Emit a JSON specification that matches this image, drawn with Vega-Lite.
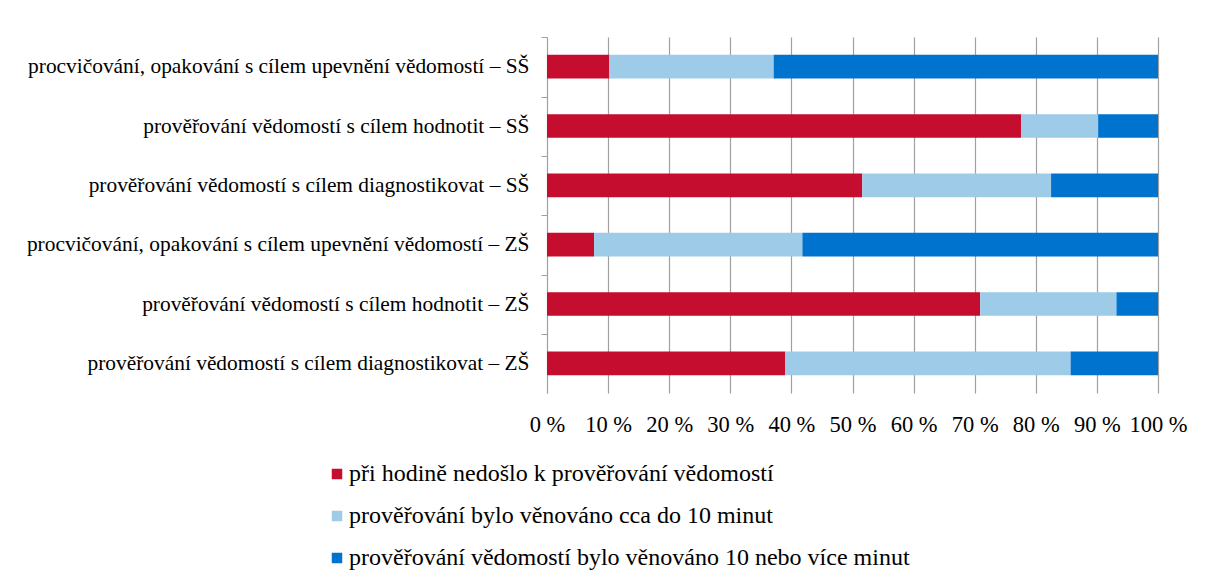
{
  "$schema": "https://vega.github.io/schema/vega-lite/v6.json",
  "autosize": "none",
  "width": 611,
  "height": 356,
  "padding": {"left": 547, "top": 37, "right": 50, "bottom": 189},
  "background": "white",
  "config": {
    "view": {"stroke": null},
    "font": "Liberation Serif, Times New Roman, serif"
  },
  "data": {
    "values": [
      {"cat": "procvičování, opakování s cílem upevnění vědomostí – SŠ", "series": "při hodině nedošlo k prověřování vědomostí", "ord": 1, "value": 10.2},
      {"cat": "procvičování, opakování s cílem upevnění vědomostí – SŠ", "series": "prověřování bylo věnováno cca do 10 minut", "ord": 2, "value": 26.9},
      {"cat": "procvičování, opakování s cílem upevnění vědomostí – SŠ", "series": "prověřování vědomostí bylo věnováno 10 nebo více minut", "ord": 3, "value": 62.9},
      {"cat": "prověřování vědomostí s cílem hodnotit – SŠ", "series": "při hodině nedošlo k prověřování vědomostí", "ord": 1, "value": 77.6},
      {"cat": "prověřování vědomostí s cílem hodnotit – SŠ", "series": "prověřování bylo věnováno cca do 10 minut", "ord": 2, "value": 12.6},
      {"cat": "prověřování vědomostí s cílem hodnotit – SŠ", "series": "prověřování vědomostí bylo věnováno 10 nebo více minut", "ord": 3, "value": 9.8},
      {"cat": "prověřování vědomostí s cílem diagnostikovat – SŠ", "series": "při hodině nedošlo k prověřování vědomostí", "ord": 1, "value": 51.6},
      {"cat": "prověřování vědomostí s cílem diagnostikovat – SŠ", "series": "prověřování bylo věnováno cca do 10 minut", "ord": 2, "value": 30.9},
      {"cat": "prověřování vědomostí s cílem diagnostikovat – SŠ", "series": "prověřování vědomostí bylo věnováno 10 nebo více minut", "ord": 3, "value": 17.5},
      {"cat": "procvičování, opakování s cílem upevnění vědomostí – ZŠ", "series": "při hodině nedošlo k prověřování vědomostí", "ord": 1, "value": 7.7},
      {"cat": "procvičování, opakování s cílem upevnění vědomostí – ZŠ", "series": "prověřování bylo věnováno cca do 10 minut", "ord": 2, "value": 34.1},
      {"cat": "procvičování, opakování s cílem upevnění vědomostí – ZŠ", "series": "prověřování vědomostí bylo věnováno 10 nebo více minut", "ord": 3, "value": 58.2},
      {"cat": "prověřování vědomostí s cílem hodnotit – ZŠ", "series": "při hodině nedošlo k prověřování vědomostí", "ord": 1, "value": 70.9},
      {"cat": "prověřování vědomostí s cílem hodnotit – ZŠ", "series": "prověřování bylo věnováno cca do 10 minut", "ord": 2, "value": 22.3},
      {"cat": "prověřování vědomostí s cílem hodnotit – ZŠ", "series": "prověřování vědomostí bylo věnováno 10 nebo více minut", "ord": 3, "value": 6.8},
      {"cat": "prověřování vědomostí s cílem diagnostikovat – ZŠ", "series": "při hodině nedošlo k prověřování vědomostí", "ord": 1, "value": 39.0},
      {"cat": "prověřování vědomostí s cílem diagnostikovat – ZŠ", "series": "prověřování bylo věnováno cca do 10 minut", "ord": 2, "value": 46.7},
      {"cat": "prověřování vědomostí s cílem diagnostikovat – ZŠ", "series": "prověřování vědomostí bylo věnováno 10 nebo více minut", "ord": 3, "value": 14.3}
    ]
  },
  "mark": {"type": "bar"},
  "encoding": {
    "y": {
      "field": "cat",
      "type": "nominal",
      "sort": null,
      "scale": {"paddingInner": 0.6, "paddingOuter": 0.3},
      "axis": {
        "title": null,
        "domainColor": "#a0a0a0",
        "tickColor": "#a0a0a0",
        "tickSize": 6,
        "tickOffset": -29.5,
        "labelOffset": 29.5,
        "labelPadding": 12,
        "labelFontSize": 21.4,
        "labelColor": "#000000",
        "labelLimit": 600,
        "labelFont": "Liberation Serif"
      }
    },
    "x": {
      "field": "value",
      "type": "quantitative",
      "stack": "normalize",
      "scale": {"domain": [0, 1], "nice": false},
      "axis": {
        "title": null,
        "format": ".0%",
        "labelExpr": "replace(datum.label, '%', ' %')",
        "values": [0, 0.1, 0.2, 0.3, 0.4, 0.5, 0.6, 0.7, 0.8, 0.9, 1],
        "labelOverlap": false,
        "labelBound": false,
        "labelFlush": false,
        "grid": true,
        "gridColor": "#a0a0a0",
        "gridWidth": 1.2,
        "domain": false,
        "ticks": false,
        "labelPadding": 20,
        "labelFontSize": 22.5,
        "labelColor": "#000000",
        "labelFont": "Liberation Serif"
      }
    },
    "color": {
      "field": "series",
      "type": "nominal",
      "sort": ["při hodině nedošlo k prověřování vědomostí", "prověřování bylo věnováno cca do 10 minut", "prověřování vědomostí bylo věnováno 10 nebo více minut"],
      "scale": {"range": ["#C50D30", "#9DCBE8", "#0073CF"]},
      "legend": {
        "title": null,
        "orient": "none",
        "legendX": -222,
        "legendY": 425,
        "direction": "vertical",
        "symbolType": "square",
        "symbolSize": 110,
        "symbolStrokeWidth": 0,
        "labelFontSize": 24,
        "labelColor": "#000000",
        "labelFont": "Liberation Serif",
        "labelLimit": 800,
        "labelOffset": 0,
        "rowPadding": 18
      }
    },
    "order": {"field": "ord", "type": "quantitative"}
  }
}
